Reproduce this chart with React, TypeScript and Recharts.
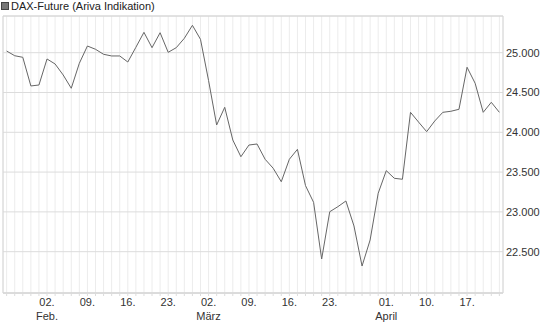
import { LineChart, Line, XAxis, YAxis, CartesianGrid, ReferenceArea } from 'recharts';

// DAX-Future closing indications, one value per trading day (late Jan -> late April)
const closes = [
  25021, 24962, 24942, 24582, 24594, 24921, 24858, 24720, 24553, 24867,
  25084, 25043, 24980, 24959, 24959, 24883, 25068, 25256, 25063, 25251,
  25005, 25063, 25181, 25344, 25168, 24650, 24092, 24314, 23903, 23693,
  23840, 23853, 23661, 23548, 23379, 23661, 23786, 23330, 23120, 22408,
  23002, 23065, 23137, 22823, 22320, 22647, 23234, 23518, 23422, 23410,
  24251, 24128, 24008, 24142, 24251, 24264, 24289, 24817, 24616, 24251,
  24377, 24251,
];

// labelled trading days on the time axis
const tickDays = [5, 10, 15, 20, 25, 30, 35, 40, 47, 52, 57];
const tickDayLabels = ['02.', '09.', '16.', '23.', '02.', '09.', '16.', '23.', '01.', '10.', '17.'];
const tickMonthLabels = ['Feb.', '', '', '', 'März', '', '', '', 'April', '', ''];

const yTicks = [22500, 23000, 23500, 24000, 24500, 25000];
const yDomain = [21981, 25461];

const data = closes.map((v, i) => ({ i, v }));
const allDays = closes.map((_, i) => i);
const xDomain = [-0.45, closes.length - 1 + 0.45];

const fmt = (n: number) => String(n).replace(/\B(?=(\d{3})+(?!\d))/g, '.');

const FONT = '"Liberation Sans", Arial, sans-serif';

function DayTick(props: any) {
  const { x, y, payload } = props;
  const k = tickDays.indexOf(payload.value);
  if (k < 0) return null;
  return (
    <text x={x} y={y} textAnchor="middle" fill="#333" fontSize={11} fontFamily={FONT}>
      <tspan x={x} dy="0.75em">{tickDayLabels[k]}</tspan>
      {tickMonthLabels[k] && <tspan x={x} dy="1.25em">{tickMonthLabels[k]}</tspan>}
    </text>
  );
}

export default function App() {
  return (
    <div style={{ position: 'absolute', left: 0, top: 0, width: 545, height: 327, background: '#fff', fontFamily: FONT }}>
      <div style={{ position: 'absolute', left: 1, top: 2, width: 6, height: 6, background: '#777', border: '1px solid #444' }} />
      <div style={{ position: 'absolute', left: 11, top: 0, fontSize: 11, color: '#222', lineHeight: '12px', whiteSpace: 'nowrap' }}>
        DAX-Future (Ariva Indikation)
      </div>
      <LineChart width={545} height={327} data={data} margin={{ top: 16, right: 0, bottom: 0, left: 3 }}>
        <CartesianGrid horizontal={false} stroke="#ececec" />
        <CartesianGrid vertical={false} stroke="#dcdcdc" />
        <XAxis
          dataKey="i"
          type="number"
          domain={xDomain}
          ticks={allDays}
          interval={0}
          allowDataOverflow
          height={34}
          axisLine={{ stroke: '#d6d6d6' }}
          tickLine={{ stroke: '#dcdcdc' }}
          tickSize={3}
          tickMargin={2}
          tick={<DayTick />}
        />
        <YAxis
          orientation="right"
          domain={yDomain}
          ticks={yTicks}
          allowDataOverflow
          width={42}
          axisLine={false}
          tickLine={false}
          tickSize={0}
          tickMargin={3}
          tickFormatter={fmt}
          tick={{ fill: '#333', fontSize: 11, fontFamily: FONT, textAnchor: 'start' }}
        />
        <ReferenceArea
          x1={xDomain[0]}
          x2={xDomain[1]}
          y1={yDomain[0]}
          y2={yDomain[1]}
          fill="none"
          stroke="#d6d6d6"
          ifOverflow="visible"
        />
        <Line
          type="linear"
          dataKey="v"
          stroke="#666"
          strokeWidth={1}
          dot={false}
          isAnimationActive={false}
        />
      </LineChart>
    </div>
  );
}
